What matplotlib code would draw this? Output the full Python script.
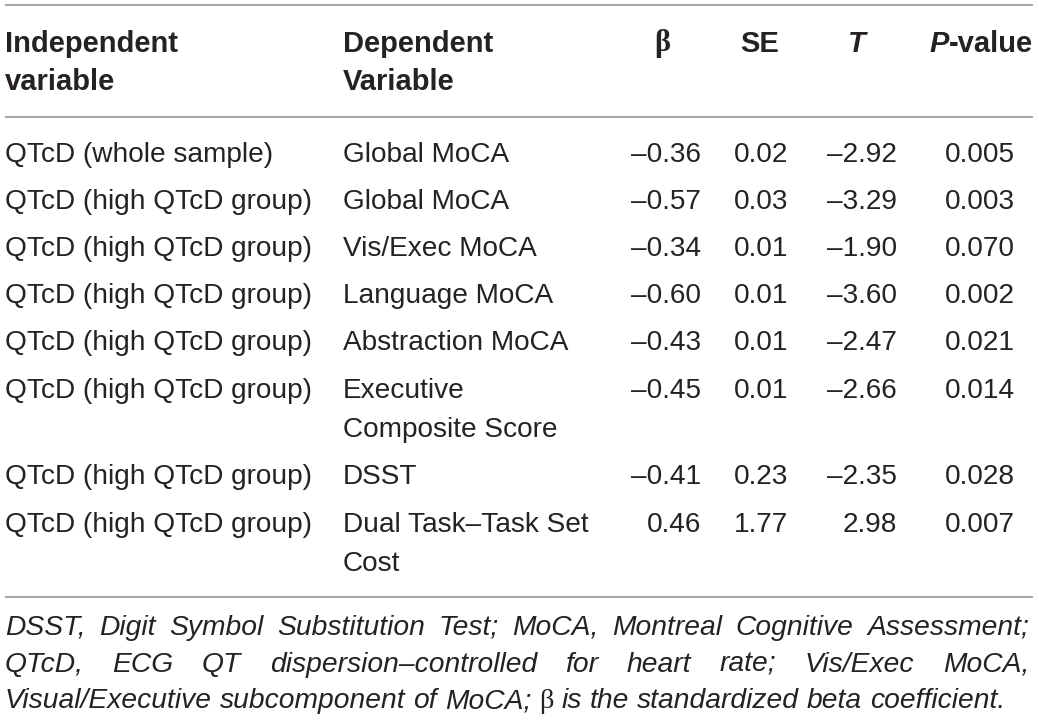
import matplotlib
matplotlib.use("Agg")
import matplotlib.pyplot as plt

# ---------------- data ----------------
col_headers = [["Independent", "variable"], ["Dependent", "Variable"], "β", "SE", "T", "P-value"]
indep = ["QTcD (whole sample)"] + ["QTcD (high QTcD group)"] * 7
dep = ["Global MoCA", "Global MoCA", "Vis/Exec MoCA", "Language MoCA",
       "Abstraction MoCA", "Executive\nComposite Score", "DSST",
       "Dual Task–Task Set\nCost"]
beta = [-0.36, -0.57, -0.34, -0.60, -0.43, -0.45, -0.41, 0.46]
se = [0.02, 0.03, 0.01, 0.01, 0.01, 0.01, 0.23, 1.77]
tval = [-2.92, -3.29, -1.90, -3.60, -2.47, -2.66, -2.35, 2.98]
pval = [0.005, 0.003, 0.070, 0.002, 0.021, 0.014, 0.028, 0.007]
footnote = [
    "DSST, Digit Symbol Substitution Test; MoCA, Montreal Cognitive Assessment;",
    "QTcD, ECG QT dispersion–controlled for heart rate; Vis/Exec MoCA,",
    "Visual/Executive subcomponent of MoCA; β is the standardized beta coefficient.",
]

# ---------------- style ----------------
W, H = 1039, 721
TXT = "#262223"
RULE = "#8c8c8c"
SANS = ["Liberation Sans", "Arial", "DejaVu Sans"]
NARROW = ["Liberation Sans Narrow", "Liberation Sans", "DejaVu Sans"]
SERIF = ["Liberation Serif", "DejaVu Serif"]
BODY_FS = 20.2
HEAD_FS = 21.0

fig = plt.figure(figsize=(W / 100, H / 100), dpi=100)
ax = fig.add_axes([0, 0, 1, 1])
ax.set_xlim(0, W)
ax.set_ylim(H, 0)
ax.axis("off")
renderer = fig.canvas.get_renderer()


def text_width(s, **kw):
    t = ax.text(0, 0, s, **kw)
    w = t.get_window_extent(renderer).width
    t.remove()
    return w


def fmt(v, nd=2):
    s = f"{v:.{nd}f}"
    return s.replace("-", "\u2013")


# rules
ax.hlines([5, 117, 597], 5, 1033, colors=RULE, linewidth=1.1)

# ---------------- header ----------------
head_base = [51.5, 90.0]
hkw = dict(family=SANS, fontsize=HEAD_FS, fontweight="bold", color=TXT, va="baseline")
for i, ln in enumerate(col_headers[0]):
    ax.text(5, head_base[i], ln, ha="left", **hkw)
for i, ln in enumerate(col_headers[1]):
    ax.text(343, head_base[i], ln, ha="left", **hkw)
ax.text(662, head_base[0], col_headers[2], ha="center", family=SERIF,
        fontsize=HEAD_FS + 1, fontweight="bold", color=TXT, va="baseline")
ax.text(760, head_base[0], col_headers[3], ha="center", **hkw)
ax.text(857, head_base[0], col_headers[4], ha="center", style="italic", **hkw)
# "P-value" with italic P
rest = col_headers[5][1:]
w_rest = text_width(rest, **hkw)
ax.text(1033, head_base[0], rest, ha="right", **hkw)
ax.text(1033 - w_rest, head_base[0], col_headers[5][0], ha="right", style="italic", **hkw)

# ---------------- body ----------------
bkw = dict(family=SANS, fontsize=BODY_FS, color=TXT, va="baseline")
ROW_GAP = 47.2
LINE_GAP = 39.5
y = 161.7
for i in range(len(indep)):
    ax.text(5, y, indep[i], ha="left", **bkw)
    lines = dep[i].split("\n")
    for k, ln in enumerate(lines):
        ax.text(343, y + k * LINE_GAP, ln, ha="left", **bkw)
    ax.text(701, y, fmt(beta[i]), ha="right", **bkw)
    ax.text(788, y, fmt(se[i]), ha="right", **bkw)
    ax.text(897, y, fmt(tval[i]), ha="right", **bkw)
    ax.text(1015, y, fmt(pval[i], 3), ha="right", **bkw)
    y += (len(lines) - 1) * LINE_GAP + ROW_GAP

# ---------------- footnote (justified) ----------------
def word_kw(word, fs):
    if word == "β":
        return dict(family=SERIF, fontsize=fs, color=TXT, va="baseline")
    return dict(family=NARROW, fontsize=fs, style="italic", color=TXT, va="baseline")


def space_width(fs):
    return text_width("x x", **word_kw("x", fs)) - text_width("xx", **word_kw("x", fs))


def natural_width(line, fs):
    words = line.split(" ")
    return sum(text_width(w, **word_kw(w, fs)) for w in words) + space_width(fs) * (len(words) - 1)


fs = 18.0
target = 1004 - 5
fs = min(21.5, fs * target / natural_width(footnote[2], fs))

foot_base = [635.0, 671.7, 708.2]
left, right = 5, 1029
for li, line in enumerate(footnote):
    words = line.split(" ")
    widths = [text_width(w, **word_kw(w, fs)) for w in words]
    if li < len(footnote) - 1:
        gap = (right - left - sum(widths)) / (len(words) - 1)
    else:
        gap = space_width(fs)
    x = left
    for w, wd in zip(words, widths):
        ax.text(x, foot_base[li], w, ha="left", **word_kw(w, fs))
        x += wd + gap

fig.savefig("out.png", dpi=100)
